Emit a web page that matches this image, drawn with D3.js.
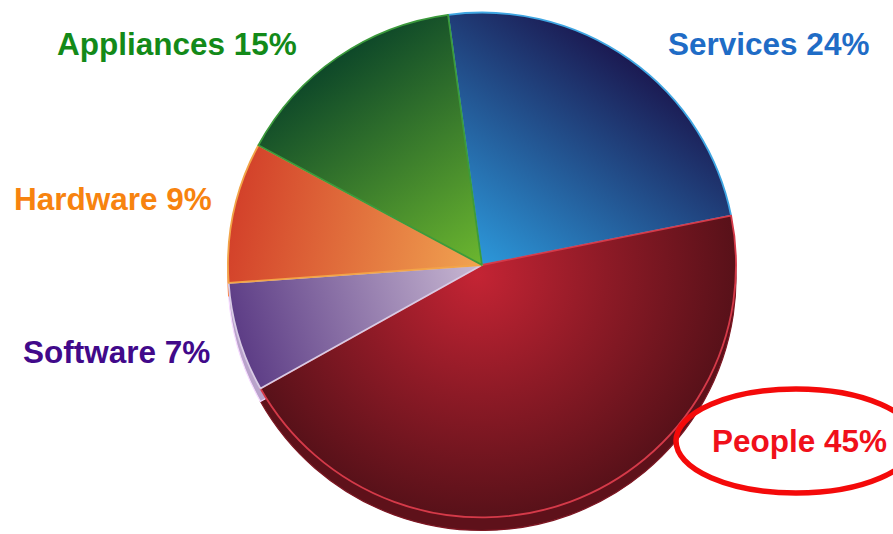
<!DOCTYPE html>
<html>
<head>
<meta charset="utf-8">
<script src="https://cdn.jsdelivr.net/npm/d3@7"></script>
<style>
  body { margin: 0; background: #fff; }
  svg { display: block; font-family: "Liberation Sans", Arial, sans-serif; }
</style>
</head>
<body>
<svg width="893" height="534"></svg>
<script>
// slices in clockwise order, starting from the Services / Appliances boundary
var categories = ["Services", "People", "Software", "Hardware", "Appliances"];
var shares = [24, 45, 7, 9, 15];

// colour for each slice: light (near centre), dark (rim), edge stroke, side band, label
var lightColors = ["#2c98da", "#c42434", "#c9b9d3", "#f1a451", "#6cb72f"];
var darkColors  = ["#1b1a52", "#581119", "#5d3d86", "#d3412a", "#0e4829"];
var strokeColors = ["#3fa6e2", "#d53a49", "#d8cbe4", "#f2a448", "#3c9a3c"];
var sideColors  = ["#1b2a60", "#5e111a", "#b9a3cb", "#d8602f", "#1e6a2a"];
var labelColors = ["#1f6cc6", "#f0101a", "#41098a", "#f7830f", "#138a19"];

// label anchor points (left x, baseline y)
var labelPos = [[668, 55], [712, 452], [23, 363], [14, 210], [57, 55]];

function render() {
  var svg = d3.select("svg"),
      cx = 482, cy = 265,
      radius = 254,
      depth = 13;

  var pie = d3.pie()
      .sort(null)
      .startAngle(-0.134)
      .endAngle(-0.134 + 2 * Math.PI);

  var arcs = pie(shares);

  var arc = d3.arc()
      .innerRadius(0)
      .outerRadius(radius);

  var defs = svg.append("defs");
  arcs.forEach(function(d, i) {
    var mid = (d.startAngle + d.endAngle) / 2;
    var g;
    if (i == 1) {
      // people: radial shading, bright only near the middle
      g = defs.append("radialGradient")
          .attr("id", "grad" + i)
          .attr("gradientUnits", "userSpaceOnUse")
          .attr("cx", 0).attr("cy", 0).attr("r", radius)
          .attr("fx", -5).attr("fy", 10);
      g.append("stop").attr("offset", "0%").attr("stop-color", lightColors[i]);
      g.append("stop").attr("offset", "50%").attr("stop-color", "#8d1a26");
      g.append("stop").attr("offset", "100%").attr("stop-color", darkColors[i]);
      return;
    }
    g = defs.append("linearGradient")
        .attr("id", "grad" + i)
        .attr("gradientUnits", "userSpaceOnUse")
        .attr("x1", 0).attr("y1", 0)
        .attr("x2", Math.sin(mid) * radius)
        .attr("y2", -Math.cos(mid) * radius);
    g.append("stop").attr("offset", "0%").attr("stop-color", lightColors[i]);
    g.append("stop").attr("offset", "100%").attr("stop-color", darkColors[i]);
  });

  // side band (the pie's thickness), drawn underneath
  var side = svg.append("g")
      .attr("transform", "translate(" + cx + "," + (cy + depth) + ") scale(1,0.994)");
  side.selectAll("path")
    .data(arcs)
    .enter().append("path")
      .attr("d", arc)
      .style("fill", function(d, i) { return sideColors[i]; })
      .style("stroke", function(d, i) { return d3.rgb(sideColors[i]).brighter(0.8); })
      .style("stroke-width", 1.2);

  // top surface
  var top = svg.append("g")
      .attr("transform", "translate(" + cx + "," + cy + ") scale(1,0.994)");
  top.selectAll("path")
    .data(arcs)
    .enter().append("path")
      .attr("d", arc)
      .style("fill", function(d, i) { return "url(#grad" + i + ")"; })
      .style("stroke", function(d, i) { return strokeColors[i]; })
      .style("stroke-width", 1.8)
      .style("stroke-linejoin", "round");

  // labels
  svg.append("g").selectAll("text")
    .data(categories)
    .enter().append("text")
      .attr("x", function(d, i) { return labelPos[i][0]; })
      .attr("y", function(d, i) { return labelPos[i][1]; })
      .style("font-size", "31.5px")
      .style("font-weight", "bold")
      .style("fill", function(d, i) { return labelColors[i]; })
      .text(function(d, i) { return d + " " + shares[i] + "%"; });

  // highlight ring round the biggest slice's label
  svg.append("ellipse")
      .attr("cx", 796)
      .attr("cy", 441)
      .attr("rx", 120)
      .attr("ry", 52)
      .style("fill", "none")
      .style("stroke", "#f40a0a")
      .style("stroke-width", 5.5);
}

render();
</script>
</body>
</html>
